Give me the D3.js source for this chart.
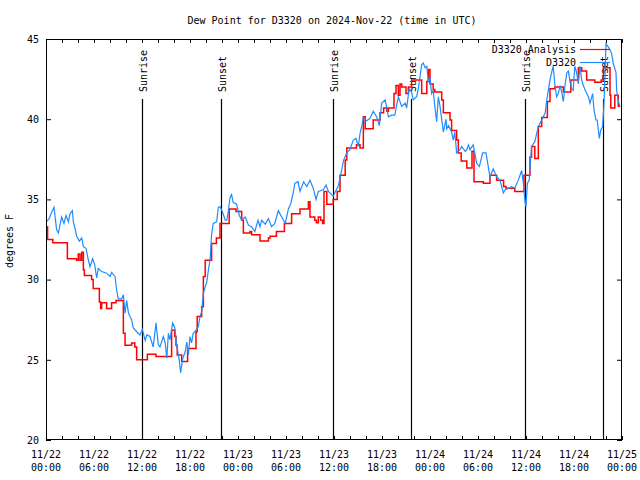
<!DOCTYPE html>
<html><head><meta charset="utf-8">
<script src="https://cdn.jsdelivr.net/npm/d3@7"></script>
<style>
body{margin:0;background:#fff}
svg{display:block}
text{font-family:"DejaVu Sans Mono",monospace;font-size:10px;fill:#000}
</style>
</head><body><svg id="c" width="640" height="480"></svg>
<script>
const title = "Dew Point for D3320 on 2024-Nov-22 (time in UTC)";
const yLabel = "degrees F";
const yTicks = [20, 25, 30, 35, 40, 45];
const xTickHours = [0, 6, 12, 18, 24, 30, 36, 42, 48, 54, 60, 66, 72];
const xTickDates = ["11/22","11/22","11/22","11/22","11/23","11/23","11/23","11/23","11/24","11/24","11/24","11/24","11/25"];
const xTickTimes = ["00:00","06:00","12:00","18:00","00:00","06:00","12:00","18:00","00:00","06:00","12:00","18:00","00:00"];
const sunNames = ["Sunrise","Sunset","Sunrise","Sunset","Sunrise","Sunset"];
const sunHours = [12.04, 21.83, 35.92, 45.63, 59.92, 69.67];
const seriesNames = ["D3320 Analysis", "D3320"];

// hours since 11/22 00:00 UTC
const analysisHours = [0,0.2,0.85,2.67,3.83,4.04,4.25,4.46,4.67,4.8,5.7,5.9,6.67,6.83,6.96,7.58,8.2,8.75,9.67,9.88,10.7,11.1,11.33,12.67,13.75,15.7,16.1,16.25,16.4,16.96,17.7,18.75,18.9,19.46,19.67,19.9,20.7,21.3,21.75,22.9,23.75,24.46,24.67,25.5,25.7,26.75,27.8,28.0,28.8,29.8,30.7,31.75,32.8,33.0,33.6,33.8,34.04,34.33,34.58,34.75,35.1,35.9,36.4,36.75,37.4,37.6,38.8,39.25,39.67,39.9,40.9,41.75,42.2,42.6,42.8,43.5,43.75,44.04,44.25,44.46,45.0,45.3,45.7,46.96,47.6,47.8,48.0,48.4,48.6,49.46,49.67,50.5,50.7,51.33,51.54,51.9,52.6,53.25,53.5,54.67,55.5,56.33,57.2,57.5,58.6,59.75,60.5,60.7,61.1,61.54,61.96,62.67,63.0,63.6,64.67,65.6,66.54,66.96,67.58,68.6,69.4,69.67,70.5,70.6,71.1,71.54,71.75];
const analysisValues = [33.3,32.5,32.3,31.3,31.2,31.6,31.2,31.7,30.6,30.25,30.0,29.45,28.6,28.2,28.55,28.2,28.55,28.7,26.65,25.9,26.05,25.8,25.0,25.35,25.2,26.85,26.45,25.9,25.3,24.9,25.7,26.75,27.7,28.3,30.2,31.2,32.25,32.6,33.5,34.4,34.25,33.7,32.9,33.0,32.8,32.4,32.6,32.7,33.0,33.5,34.1,34.4,34.85,33.9,33.7,33.55,33.9,33.7,33.5,35.5,34.7,35.0,35.5,36.5,37.45,38.2,38.4,38.2,40.15,39.4,39.95,40.4,40.7,40.5,40.7,41.6,42.1,41.5,42.2,42.0,41.6,42.0,42.45,41.6,42.35,43.1,42.2,41.85,41.7,41.2,40.4,39.95,39.3,38.7,37.9,37.4,36.95,38.0,36.1,36.0,36.5,36.2,35.8,35.7,35.5,36.5,37.65,38.3,37.55,39.55,40.1,41.1,41.9,42.0,41.7,42.45,43.2,43.0,42.45,42.3,42.45,43.2,41.5,40.7,41.5,40.8,40.8];

const obsHours = [0.05,0.4,0.7,1.0,1.33,1.54,1.96,2.25,2.5,2.8,3.0,3.3,3.42,3.63,3.83,4.17,4.46,4.67,5.0,5.3,5.5,5.83,6.1,6.33,6.54,6.96,7.58,8.0,8.2,8.63,8.83,9.04,9.46,9.67,9.88,10.08,10.3,10.5,10.7,10.9,11.33,11.75,12.04,12.4,12.6,13.0,13.4,13.75,14.04,14.25,14.67,14.9,15.1,15.3,15.5,15.83,16.1,16.33,16.67,16.83,17.1,17.4,17.6,17.8,18.0,18.2,18.4,18.6,19.04,19.25,19.46,19.67,19.9,20.08,20.3,20.5,20.7,20.9,21.33,21.54,21.75,22.08,22.4,22.6,22.8,23.0,23.2,23.4,23.83,24.17,24.46,24.9,25.3,25.7,26.1,26.5,26.75,26.96,27.4,27.8,28.2,28.6,29.04,29.46,29.9,30.3,30.6,30.9,31.1,31.5,31.75,32.2,32.6,33.0,33.4,33.75,34.04,34.67,35.0,35.3,35.7,35.9,36.1,36.5,36.75,37.2,37.6,38.0,38.4,38.75,39.04,39.25,39.46,39.67,40.08,40.5,40.9,41.33,41.67,41.96,42.4,42.6,42.8,43.2,43.6,44.04,44.46,44.9,45.08,45.4,45.7,45.9,46.33,46.54,46.75,46.96,47.17,47.4,47.6,47.8,48.0,48.2,48.4,48.6,48.83,49.04,49.25,49.46,49.67,50.0,50.08,50.3,50.7,50.9,51.1,51.33,51.75,51.96,52.4,52.6,52.8,53.0,53.4,53.6,53.83,54.17,54.58,55.0,55.5,55.9,56.33,56.75,57.17,57.4,57.8,58.2,58.6,59.04,59.46,59.67,59.9,60.0,60.17,60.4,60.7,61.1,61.54,61.96,62.4,62.6,63.0,63.2,63.4,63.6,63.83,64.04,64.25,64.46,64.67,64.9,65.1,65.3,65.5,65.7,65.9,66.1,66.33,66.54,66.75,66.96,67.17,67.4,67.8,68.0,68.33,68.5,68.75,68.9,69.17,69.33,69.58,69.75,70.0,70.3,70.5,70.7,70.9,71.25,71.33,71.54,71.75];
const obsValues = [33.6,33.8,34.2,34.5,33.1,32.9,33.9,33.5,34.0,33.6,34.1,34.3,33.6,33.2,32.7,32.4,32.6,32.05,31.95,31.2,30.8,31.3,30.9,30.1,30.7,30.5,30.4,30.2,30.45,30.2,29.35,28.8,28.8,29.05,27.9,28.7,27.95,27.7,27.5,27.0,26.75,26.55,26.9,26.2,26.55,26.45,25.8,27.3,25.95,25.8,26.45,26.05,25.1,26.65,26.25,27.3,27.0,25.95,24.95,24.2,25.1,25.5,26.1,25.3,26.45,26.05,26.65,26.75,27.06,27.7,28.0,29.15,29.55,29.8,30.6,31.2,32.8,33.5,33.6,34.5,34.55,34.2,33.7,33.7,34.3,35.1,35.3,34.8,34.7,34.0,33.7,33.9,33.4,33.3,33.0,33.7,33.3,33.7,33.45,33.8,33.3,33.5,34.3,33.9,33.5,34.4,34.75,35.4,36.0,36.1,35.5,36.1,35.8,36.2,35.7,35.0,35.5,35.6,35.9,35.5,35.3,35.2,35.4,35.8,36.3,37.45,37.9,38.1,38.7,38.8,38.3,39.1,39.55,40.1,39.9,40.05,40.5,40.15,39.6,41.0,41.2,40.7,40.15,40.25,40.25,41.4,40.8,41.0,40.7,41.9,41.7,41.2,41.4,41.9,42.65,43.4,43.5,43.2,43.3,42.3,42.6,41.6,41.8,40.8,39.85,41.4,40.8,40.0,39.2,40.0,39.4,39.6,39.2,38.7,39.2,37.9,38.1,38.3,38.0,38.1,38.4,38.1,38.4,37.9,37.25,37.05,37.9,37.9,36.4,36.9,36.4,36.2,35.4,35.6,35.7,35.8,35.7,36.2,36.8,36.0,34.75,34.55,36.0,36.2,38.3,38.6,39.55,39.95,40.4,41.2,42.45,42.9,43.3,42.2,41.4,41.6,42.1,41.7,41.1,42.2,42.9,43.0,42.35,41.9,41.8,43.3,42.9,42.2,43.3,42.45,42.1,41.8,41.4,41.0,41.6,40.6,39.95,39.95,38.8,39.3,39.55,41.0,44.7,44.5,44.3,44.1,43.5,42.9,41.8,41.1,40.8];

const svg = d3.select("#c");
const L = 46, R = 622, T = 39, B = 440;
const x = d3.scaleLinear().domain([0, 72]).range([L, R]);
const y = d3.scaleLinear().domain([20, 45]).range([B, T]);

svg.append("rect").attr("width",640).attr("height",480).attr("fill","#fff");

svg.append("text").attr("x", 332).attr("y", 24).attr("text-anchor","middle").text(title);
svg.append("text").attr("transform","translate(13,241) rotate(-90)").attr("text-anchor","middle").text(yLabel);

svg.append("clipPath").attr("id","clip").append("rect").attr("x",L).attr("y",T).attr("width",R-L).attr("height",B-T);

// sunrise / sunset
const sun = svg.append("g");
sunHours.forEach((h,i)=>{
  const sx = Math.round(x(h)) + 0.5;
  sun.append("line").attr("x1",sx).attr("x2",sx).attr("y1",99).attr("y2",B)
    .attr("stroke","#000").attr("stroke-width",1.2);
  sun.append("text").attr("transform",`translate(${sx+4},92) rotate(-90)`).attr("text-anchor","start").text(sunNames[i]);
});

const plot = svg.append("g").attr("clip-path","url(#clip)");
const aData = analysisHours.map((h,i)=>[h, analysisValues[i]]);
const oData = obsHours.map((h,i)=>[h, obsValues[i]]);
plot.append("path").datum(aData)
  .attr("d", d3.line().x(d=>x(d[0])).y(d=>y(d[1])).curve(d3.curveStepAfter))
  .attr("fill","none").attr("stroke","#ff0000").attr("stroke-width",1.5);
plot.append("path").datum(oData)
  .attr("d", d3.line().x(d=>x(d[0])).y(d=>y(d[1])))
  .attr("fill","none").attr("stroke","#1e8cff").attr("stroke-width",1.2);

// axes (inward ticks)
const minor = d3.range(0, 73, 2);
svg.append("g").attr("transform",`translate(0,${B})`)
  .call(d3.axisBottom(x).tickValues(minor).tickSize(-4).tickFormat("").tickSizeOuter(0))
  .call(g=>g.select(".domain").remove());
svg.append("g").attr("transform",`translate(0,${T})`)
  .call(d3.axisTop(x).tickValues(minor).tickSize(-4).tickFormat("").tickSizeOuter(0))
  .call(g=>g.select(".domain").remove());
svg.append("g").attr("transform",`translate(${L},0)`)
  .call(d3.axisLeft(y).tickValues(yTicks).tickSize(-5).tickPadding(7).tickSizeOuter(0))
  .call(g=>g.select(".domain").remove())
  .call(g=>g.selectAll("text").style("font-family",'"DejaVu Sans Mono",monospace').style("font-size","10px").attr("fill","#000"));
svg.append("g").attr("transform",`translate(${R},0)`)
  .call(d3.axisRight(y).tickValues(yTicks).tickSize(-5).tickFormat("").tickSizeOuter(0))
  .call(g=>g.select(".domain").remove());

svg.append("rect").attr("x",L+0.5).attr("y",T+0.5).attr("width",R-L-1).attr("height",B-T-1)
  .attr("fill","none").attr("stroke","#000").attr("stroke-width",1);

const xl = svg.append("g");
xTickHours.forEach((h,i)=>{
  xl.append("text").attr("x",x(h)).attr("y",458).attr("text-anchor","middle").text(xTickDates[i]);
  xl.append("text").attr("x",x(h)).attr("y",471).attr("text-anchor","middle").text(xTickTimes[i]);
});

// legend
const lg = svg.append("g");
const colors = ["#ff0000", "#1e8cff"];
seriesNames.forEach((n,i)=>{
  const ly = 50 + i*13;
  lg.append("text").attr("x",576).attr("y",ly+3).attr("text-anchor","end").text(n);
  lg.append("line").attr("x1",580).attr("x2",610).attr("y1",ly-0.5).attr("y2",ly-0.5)
    .attr("stroke",colors[i]).attr("stroke-width",1.2);
});
</script>
</body></html>
